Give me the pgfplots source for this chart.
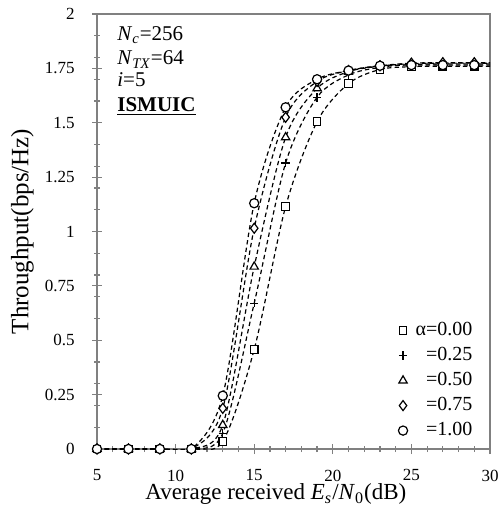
\documentclass[border=0pt]{standalone}
\usepackage{fontspec}
\setmainfont{Liberation Serif}
\usepackage{pgfplots}
\pgfplotsset{compat=1.18}
\definecolor{axgray}{HTML}{808080}
\begin{document}
\begin{tikzpicture}
\useasboundingbox (0,0) rectangle (250pt,254.5pt);
\begin{axis}[
  at={(48.5pt,30pt)}, anchor=south west,
  scale only axis, width=196.5pt, height=217.5pt,
  xmin=5, xmax=30, ymin=0, ymax=2,
  clip=true, clip mode=individual,
  xtick={5,10,15,20,25,30},
  xticklabels={5,10,15,20,25,30},
  minor xtick={5,6,...,30},
  ytick={0,0.25,0.5,0.75,1,1.25,1.5,1.75,2},
  yticklabels={0,0.25,0.5,0.75,1,1.25,1.5,1.75,2},
  minor ytick={0.1,0.2,0.3,0.4,0.6,0.7,0.8,0.9,1.1,1.2,1.3,1.4,1.6,1.7,1.8,1.9},
  tick pos=left,
  tick align=center,
  major tick length=5pt,
  minor tick length=3pt,
  axis line style={draw=axgray, line width=0.7pt},
  every axis/.append style={line width=0.7pt},
  tick style={draw=axgray, line width=0.6pt},
  /pgf/number format/assume math mode=true,
  ticklabel style={font=\fontsize{8.5}{10}\selectfont},
  xticklabel style={yshift=-6.5pt, inner sep=1pt},
  yticklabel style={xshift=-5pt},
  legend style={at={(axis description cs:0.957,0.02)}, anchor=south east,
    draw=none, fill=none, inner sep=0pt, font=\fontsize{10}{12}\selectfont,
    row sep=3.5pt, cells={anchor=east},
    nodes={inner sep=0pt, text height=7pt, text depth=2pt},
    column sep=4pt},
  every axis plot/.append style={line width=0.6pt},
]
% dashed smooth curves
\addplot[black, smooth, forget plot, dash pattern=on 2.2pt off 1.6pt] coordinates {
(5,0)(7,0)(9,0)(11,0)(13,0.035)(15,0.458)(17,1.115)(19,1.505)(21,1.68)(23,1.745)(25,1.758)(27,1.76)(29,1.76)(30,1.76)};
\addplot[black, smooth, forget plot, dash pattern=on 2.2pt off 1.6pt] coordinates {
(5,0)(7,0)(9,0)(11,0)(13,0.072)(15,0.67)(17,1.315)(19,1.617)(21,1.72)(23,1.755)(25,1.768)(27,1.77)(29,1.77)(30,1.77)};
\addplot[black, smooth, forget plot, dash pattern=on 2.2pt off 1.6pt] coordinates {
(5,0)(7,0)(9,0)(11,0)(13,0.11)(15,0.838)(17,1.433)(19,1.658)(21,1.735)(23,1.76)(25,1.772)(27,1.774)(29,1.774)(30,1.774)};
\addplot[black, smooth, forget plot, dash pattern=on 2.2pt off 1.6pt] coordinates {
(5,0)(7,0)(9,0)(11,0)(13,0.187)(15,1.015)(17,1.525)(19,1.69)(21,1.74)(23,1.762)(25,1.774)(27,1.776)(29,1.776)(30,1.776)};
\addplot[black, smooth, forget plot, dash pattern=on 2.2pt off 1.6pt] coordinates {
(5,0)(7,0)(9,0)(11,0)(13,0.245)(15,1.13)(17,1.571)(19,1.70)(21,1.74)(23,1.762)(25,1.765)(27,1.765)(29,1.765)(30,1.765)};
% markers
\addplot[only marks, mark=square*, mark size=1.9pt, mark options={draw=black, fill=white, line width=0.6pt}] coordinates {
(5,0)(7,0)(9,0)(11,0)(13,0.035)(15,0.458)(17,1.115)(19,1.505)(21,1.68)(23,1.745)(25,1.758)(27,1.76)(29,1.76)};
\addlegendentry{α=0.00}
\addplot[only marks, mark=+, mark size=2.1pt, mark options={draw=black, line width=0.6pt}] coordinates {
(5,0)(7,0)(9,0)(11,0)(13,0.072)(15,0.67)(17,1.315)(19,1.617)(21,1.72)(23,1.755)(25,1.768)(27,1.77)(29,1.77)};
\addlegendentry{=0.25}
\addplot[only marks, mark=triangle*, mark size=2.4pt, mark options={draw=black, fill=white, line width=0.6pt}] coordinates {
(5,0)(7,0)(9,0)(11,0)(13,0.11)(15,0.838)(17,1.433)(19,1.658)(21,1.735)(23,1.76)(25,1.772)(27,1.774)(29,1.774)};
\addlegendentry{=0.50}
\addplot[only marks, mark=diamond*, mark size=2.5pt, mark options={draw=black, fill=white, line width=0.6pt}] coordinates {
(5,0)(7,0)(9,0)(11,0)(13,0.187)(15,1.015)(17,1.525)(19,1.69)(21,1.74)(23,1.762)(25,1.774)(27,1.776)(29,1.776)};
\addlegendentry{=0.75}
\addplot[only marks, mark=*, mark size=2.3pt, mark options={draw=black, fill=white, line width=0.6pt}] coordinates {
(5,0)(7,0)(9,0)(11,0)(13,0.245)(15,1.13)(17,1.571)(19,1.70)(21,1.74)(23,1.762)(25,1.765)(27,1.765)(29,1.765)};
\addlegendentry{=1.00}
% labels
\node[rotate=90, anchor=center, font=\fontsize{12.5}{15}\selectfont] at (axis description cs:-0.1896,0.5) {Throughput(bps/Hz)};
\node[anchor=base, inner sep=0pt, font=\fontsize{11.5}{14}\selectfont] at (axis description cs:0.455,-0.1172) {Average received \textit{E}\textsubscript{\textit{s}}/\textit{N}\textsubscript{0}(dB)};
% annotations
\node[anchor=base west, inner sep=0pt, font=\fontsize{10.5}{12}\selectfont] at (axis description cs:0.05,0.9388) {\textit{N}\textsubscript{\textit{c}}=256};
\node[anchor=base west, inner sep=0pt, font=\fontsize{10.5}{12}\selectfont] at (axis description cs:0.05,0.8828) {\textit{N}\textsubscript{\textit{TX}}=64};
\node[anchor=base west, inner sep=0pt, font=\fontsize{10.5}{12}\selectfont] at (axis description cs:0.05,0.8322) {\textit{i}=5};
\node[anchor=base west, inner sep=0pt, font=\fontsize{10.5}{12}\selectfont] at (axis description cs:0.05,0.7756) {\underline{\textbf{ISMUIC}}};
\end{axis}
\end{tikzpicture}
\end{document}
